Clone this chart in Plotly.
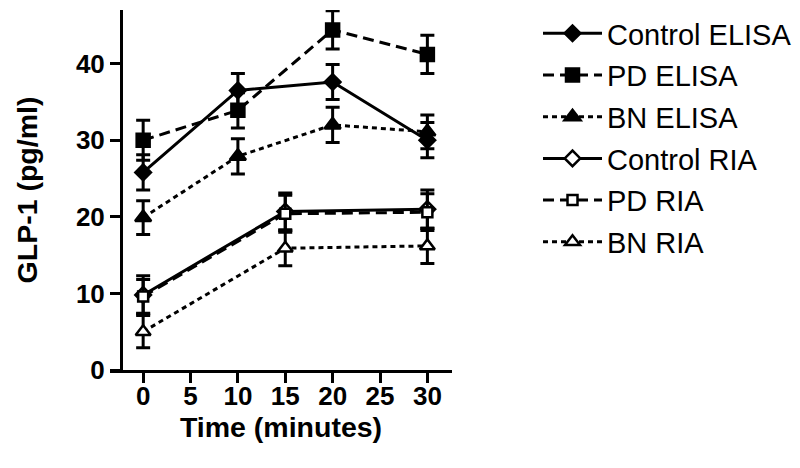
import plotly.graph_objects as go

t_elisa = [0, 10, 20, 30]
t_ria = [0, 15, 30]

control_elisa = [25.8, 36.5, 37.6, 30.0]
control_elisa_err = [2.3, 2.2, 2.3, 2.3]
pd_elisa = [30.0, 33.9, 44.4, 41.2]
pd_elisa_err = [2.6, 2.3, 2.5, 2.5]
bn_elisa = [19.9, 27.9, 32.0, 31.1]
bn_elisa_err = [2.2, 2.3, 2.3, 2.2]

control_ria = [9.8, 20.7, 21.0]
control_ria_err = [2.5, 2.4, 2.5]
pd_ria = [9.6, 20.4, 20.6]
pd_ria_err = [2.2, 2.4, 2.4]
bn_ria = [5.0, 15.9, 16.2]
bn_ria_err = [2.1, 2.3, 2.3]

series = [
    ("Control ELISA", t_elisa, control_elisa, control_elisa_err, "solid", "diamond", 12, "black"),
    ("PD ELISA", t_elisa, pd_elisa, pd_elisa_err, "11px,6px", "square", 13, "black"),
    ("BN ELISA", t_elisa, bn_elisa, bn_elisa_err, "5px,4px", "triangle-up", 14, "black"),
    ("Control RIA", t_ria, control_ria, control_ria_err, "solid", "diamond", 12, "white"),
    ("PD RIA", t_ria, pd_ria, pd_ria_err, "11px,6px", "square", 10, "white"),
    ("BN RIA", t_ria, bn_ria, bn_ria_err, "5px,4px", "triangle-up", 13, "white"),
]

fig = go.Figure()
for i, (name, xs, ys, es, dash, sym, size, fill) in enumerate(series):
    fig.add_trace(go.Scatter(
        x=xs, y=ys, name=name, mode="lines+markers",
        legendgroup=f"g{i}",
        line=dict(color="black", width=3, dash=dash),
        marker=dict(symbol=sym, size=size, color=fill,
                    line=dict(color="black", width=2.5)),
        error_y=dict(type="data", array=es, visible=True, color="black", thickness=3, width=7),
    ))

fig.update_layout(
    width=800, height=468,
    margin=dict(l=110, r=348, t=10, b=98),
    paper_bgcolor="white", plot_bgcolor="white",
    font=dict(family="Liberation Sans, Arial, sans-serif", color="black"),
    showlegend=True,
    legend=dict(xref="container", yref="container", x=0.6725, y=0.983,
                xanchor="left", yanchor="top", maxheight=460,
                font=dict(size=29, color="black"), tracegroupgap=1, itemwidth=59,
                bgcolor="rgba(0,0,0,0)"),
    xaxis=dict(range=[-3.5, 32.6], tickvals=[0, 5, 10, 15, 20, 25, 30],
               automargin=False,
               showline=True, linecolor="black", linewidth=3,
               ticks="outside", ticklen=10, tickwidth=3, tickcolor="black",
               showgrid=False, zeroline=False, ticklabelstandoff=-9,
               tickfont=dict(size=26, weight="bold"),
               title=dict(text="Time (minutes)", font=dict(size=28.5, weight="bold"), standoff=3)),
    yaxis=dict(range=[0, 47], tickvals=[0, 10, 20, 30, 40],
               anchor="free", position=11/342, automargin=False,
               showline=True, linecolor="black", linewidth=3,
               ticks="outside", ticklen=10, tickwidth=3, tickcolor="black",
               showgrid=False, zeroline=False,
               tickfont=dict(size=26, weight="bold"),
               title=dict(text="GLP-1 (pg/ml)", font=dict(size=28.5, weight="bold"), standoff=28)),
)

fig.write_html("out.html", config={"displayModeBar": False},
               post_script="document.body.style.margin='0';document.body.style.overflow='hidden';")
